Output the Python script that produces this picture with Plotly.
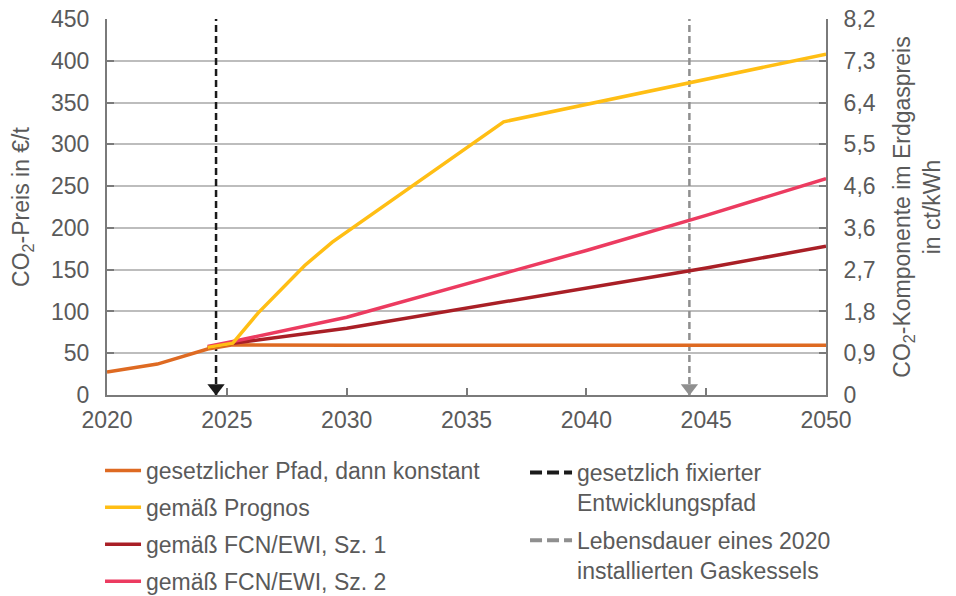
import plotly.graph_objects as go

# ---- data ----
orange_x = [2020, 2022.1, 2024.2, 2025.25, 2030, 2035, 2040, 2045, 2050]
orange_y = [27.5, 37, 55, 60, 59.5, 59.5, 59.5, 59.5, 59.5]

prognos_x = [2024.2, 2025.25, 2026.3, 2028.25, 2029.4, 2036.55, 2050]
prognos_y = [57, 62, 98, 155, 183, 327, 408]

fcn1_x = [2024.2, 2025.25, 2030, 2035, 2040, 2045, 2050]
fcn1_y = [57, 62, 80, 104, 127, 152, 178]

fcn2_x = [2024.2, 2025.25, 2030, 2035, 2040, 2045, 2050]
fcn2_y = [58, 64, 93, 133, 173, 215, 259]

fixed_year = 2024.55
boiler_year = 2044.3

left_ticks = [0, 50, 100, 150, 200, 250, 300, 350, 400, 450]
right_labels = ["0", "0,9", "1,8", "2,7", "3,6", "4,6", "5,5", "6,4", "7,3", "8,2"]
x_ticks = [2020, 2025, 2030, 2035, 2040, 2045, 2050]

names = ["gesetzlicher Pfad, dann konstant", "gemäß Prognos",
         "gemäß FCN/EWI, Sz. 1", "gemäß FCN/EWI, Sz. 2"]
vnames = ["gesetzlich fixierter<br>Entwicklungspfad",
          "Lebensdauer eines 2020<br>installierten Gaskessels"]

C_OR = "#DE6A22"
C_YE = "#FFBE14"
C_DR = "#A91F26"
C_PK = "#EC3B60"
C_BK = "#1a1a1a"
C_GR = "#8f8f8f"
TXT = "#5a5a5a"
FONT = "Liberation Sans, Arial, sans-serif"
FS = 23

fig = go.Figure()

# vertical dashed lines (plot) + legend-only samples
fig.add_trace(go.Scatter(x=[fixed_year, fixed_year], y=[0, 450], mode="lines",
                         line=dict(color=C_BK, width=2.5, dash="7px,4px"),
                         showlegend=False, hoverinfo="skip"))
fig.add_trace(go.Scatter(x=[boiler_year, boiler_year], y=[0, 450], mode="lines",
                         line=dict(color=C_GR, width=2.5, dash="7px,4px"),
                         showlegend=False, hoverinfo="skip"))
fig.add_trace(go.Scatter(x=[None], y=[None], mode="lines",
                         line=dict(color=C_BK, width=4, dash="12px,5px"),
                         name=vnames[0], legend="legend2", legendrank=1,
                         legendgroup="v1"))
fig.add_trace(go.Scatter(x=[None], y=[None], mode="lines",
                         line=dict(color=C_GR, width=4, dash="12px,5px"),
                         name=vnames[1], legend="legend2", legendrank=2,
                         legendgroup="v2"))

# data lines
fig.add_trace(go.Scatter(x=orange_x, y=orange_y, mode="lines", name=names[0],
                         line=dict(color=C_OR, width=3.5), legendrank=1,
                         legendgroup="a"))
fig.add_trace(go.Scatter(x=fcn1_x, y=fcn1_y, mode="lines", name=names[2],
                         line=dict(color=C_DR, width=3.5), legendrank=3,
                         legendgroup="c"))
fig.add_trace(go.Scatter(x=fcn2_x, y=fcn2_y, mode="lines", name=names[3],
                         line=dict(color=C_PK, width=3.5), legendrank=4,
                         legendgroup="d"))
fig.add_trace(go.Scatter(x=prognos_x, y=prognos_y, mode="lines", name=names[1],
                         line=dict(color=C_YE, width=3.5), legendrank=2,
                         legendgroup="b"))

# arrow heads at the bottom of the dashed lines
fig.add_trace(go.Scatter(x=[fixed_year], y=[8.4], mode="markers", showlegend=False,
                         marker=dict(symbol="triangle-down", size=15, color=C_BK),
                         cliponaxis=False, hoverinfo="skip"))
fig.add_trace(go.Scatter(x=[boiler_year], y=[8.4], mode="markers", showlegend=False,
                         marker=dict(symbol="triangle-down", size=15, color=C_GR),
                         cliponaxis=False, hoverinfo="skip"))

# invisible trace to activate the right axis
fig.add_trace(go.Scatter(x=[2020], y=[0], yaxis="y2", mode="markers",
                         marker=dict(opacity=0), showlegend=False, hoverinfo="skip"))

axis_common = dict(showline=True, linecolor="#7a7a7a", linewidth=2,
                   ticks="inside", ticklen=7, tickwidth=2, tickcolor="#7a7a7a",
                   automargin=False, ticklabeloverflow="allow",
                   tickfont=dict(size=FS, color=TXT, family=FONT))

# the page body adds an 8px margin, so the figure is 948x588
fig.update_layout(
    template="none",
    width=948, height=588, autosize=False,
    margin=dict(l=99, r=130, t=11, b=201, autoexpand=False),
    paper_bgcolor="white", plot_bgcolor="white",
    font=dict(family=FONT, size=FS, color=TXT),
    xaxis=dict(range=[2020, 2050], tickvals=x_ticks, showgrid=False, zeroline=False,
               ticklabelstandoff=3, **axis_common),
    yaxis=dict(range=[0, 450], tickvals=left_ticks, showgrid=True,
               gridcolor="#bdbdbd", gridwidth=1.5, zeroline=False,
               ticklabelstandoff=11,
               title=dict(text="CO<sub>2</sub>-Preis in €/t", standoff=19,
                          font=dict(size=FS, color=TXT)),
               **axis_common),
    yaxis2=dict(range=[0, 450], tickvals=left_ticks, ticktext=right_labels,
                overlaying="y", side="right", showgrid=False, zeroline=False,
                ticklabelstandoff=11,
                title=dict(text="CO<sub>2</sub>-Komponente im Erdgaspreis<br>in ct/kWh",
                           standoff=19, font=dict(size=FS, color=TXT)),
                **axis_common),
    legend=dict(xref="paper", yref="container", x=-0.0097, y=0.2500,
                xanchor="left", yanchor="top",
                orientation="v", traceorder="grouped", tracegroupgap=4,
                font=dict(size=FS, color=TXT, family=FONT),
                bgcolor="rgba(0,0,0,0)", itemwidth=36),
    legend2=dict(xref="paper", yref="container", x=0.5814, y=0.2466,
                 xanchor="left", yanchor="top", valign="top",
                 orientation="v", traceorder="grouped", tracegroupgap=5,
                 font=dict(size=FS, color=TXT, family=FONT),
                 bgcolor="rgba(0,0,0,0)", itemwidth=42),
    showlegend=True,
)

fig.write_html("out.html")
